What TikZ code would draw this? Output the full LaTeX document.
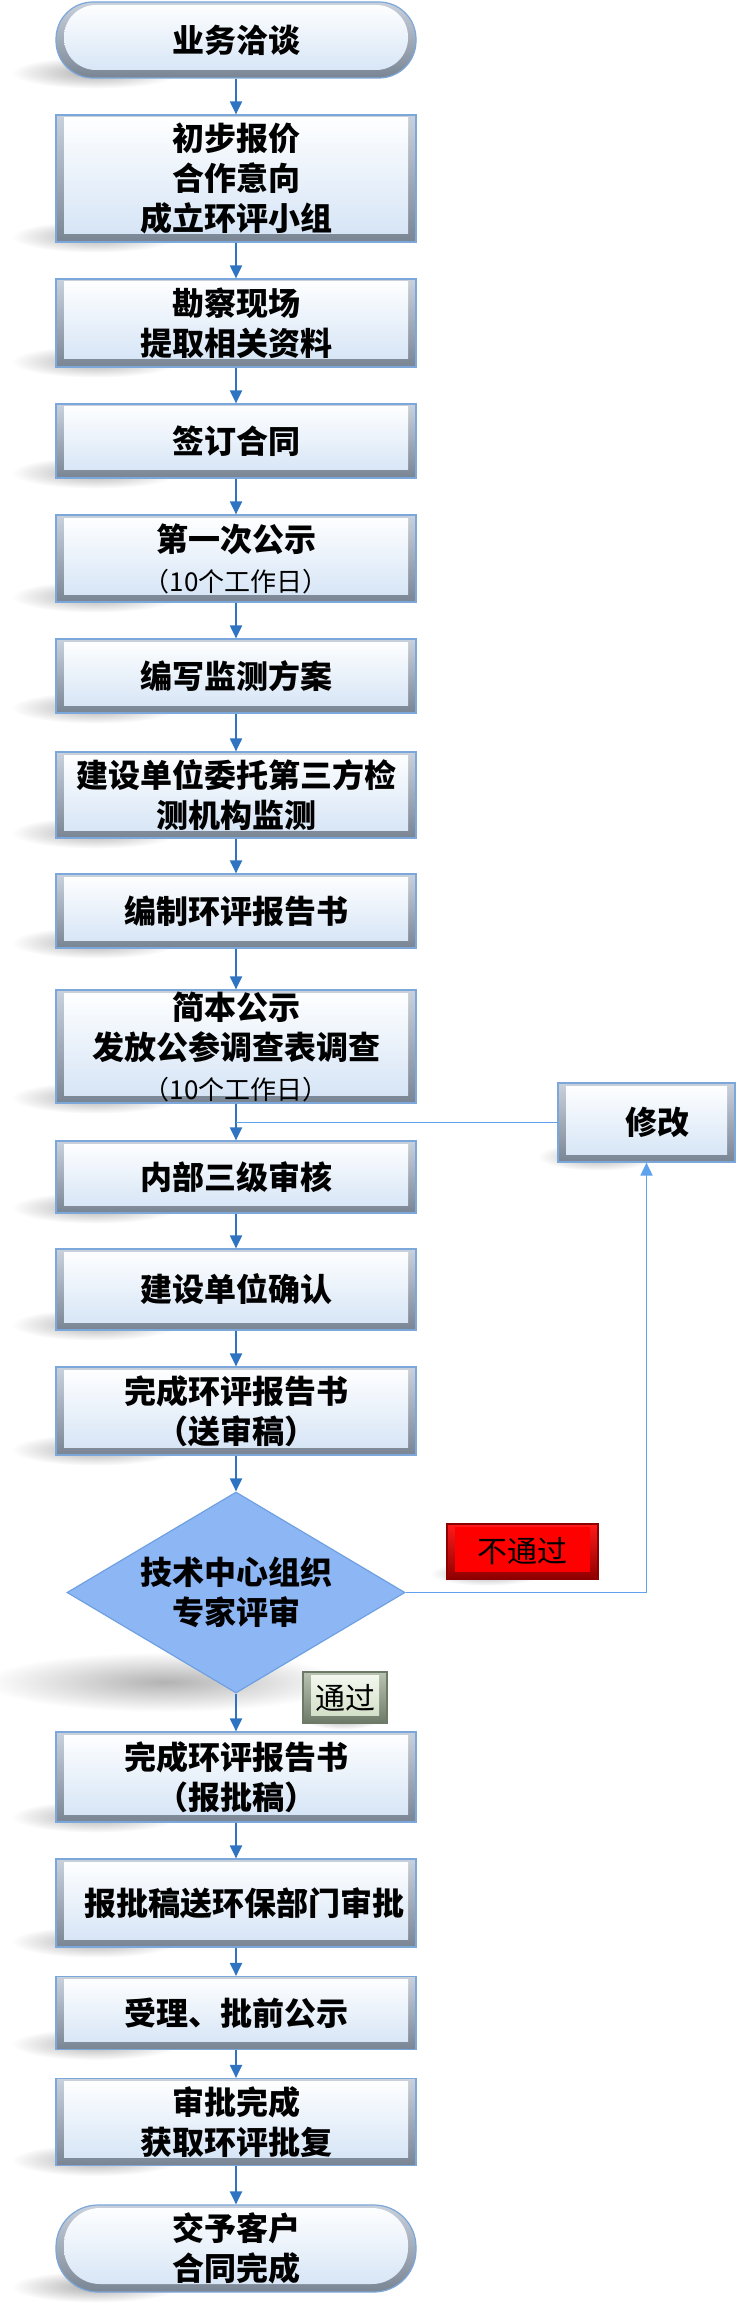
\documentclass[tikz,border=0pt]{standalone}
\usepackage{fontspec}
\newfontfamily\cjk{Noto Sans CJK SC}
\usetikzlibrary{shapes.geometric,arrows.meta,calc}
\pgfdeclarelayer{bg}
\pgfsetlayers{bg,main}
\definecolor{arrowblue}{HTML}{2F74C0}
\definecolor{linkblue}{HTML}{5EA2EE}
\definecolor{boxedge}{HTML}{7BA7DA}
\definecolor{innerbot}{HTML}{D3E3F5}
\definecolor{beveltop}{HTML}{C9D1DC}
\definecolor{bevelbot}{HTML}{7A8594}
\definecolor{diafill}{HTML}{8DB6F5}
\definecolor{diaedge}{HTML}{6FA0E0}
\definecolor{redtop}{HTML}{FF1A1A}
\definecolor{redbot}{HTML}{8E0000}
\definecolor{greentop}{HTML}{F6F9F1}
\definecolor{greenbot}{HTML}{CDDCC2}
\definecolor{gbeveltop}{HTML}{B9C3B2}
\definecolor{gbevelbot}{HTML}{6E7A68}
\newcommand\dropshade[3]{\shade[inner color=black!32, outer color=white] ($(#1.south west)+(40,-6)$) ellipse [x radius=#2, y radius=#3];}
\tikzset{
  bevelbox/.style n args={5}{rectangle, draw=#1, line width=0.6pt, top color=#2, bottom color=#3,
    inner sep=0pt, align=center,
    path picture={\shade[top color=#4, bottom color=#5]
      ([xshift=4pt,yshift=-1.5pt]path picture bounding box.north west) rectangle
      ([xshift=-4pt,yshift=4pt]path picture bounding box.south east);}},
  procbox/.style={bevelbox={boxedge}{beveltop}{bevelbot}{white}{innerbot},
    minimum width=180pt, font=\cjk\bfseries\fontsize{16}{20}\selectfont},
  termbox/.style 2 args={rectangle, draw=boxedge, line width=0.6pt, top color=beveltop, bottom color=bevelbot,
    rounded corners=#1, inner sep=0pt, align=center, minimum width=180pt,
    font=\cjk\bfseries\fontsize{16}{20}\selectfont,
    path picture={\shade[top color=white, bottom color=innerbot, rounded corners=#2]
      ([xshift=4pt,yshift=-1.5pt]path picture bounding box.north west) rectangle
      ([xshift=-4pt,yshift=4pt]path picture bounding box.south east);}},
  decision/.style={diamond, draw=diaedge, line width=0.6pt, fill=diafill, inner sep=0pt, aspect=1.68,
    minimum width=169pt, minimum height=100.5pt, align=center,
    font=\cjk\bfseries\fontsize{16}{20}\selectfont},
  redtag/.style={bevelbox={redbot}{redtop}{redbot}{red}{red}, font=\cjk\fontsize{15}{18}\selectfont},
  greentag/.style={bevelbox={gbevelbot}{gbeveltop}{gbevelbot}{greentop}{greenbot}, font=\cjk\fontsize{15}{18}\selectfont},
  flow/.style={draw=arrowblue, line width=1pt, -{Triangle[width=6pt,length=6.5pt]}},
  link/.style={draw=linkblue, line width=0.9pt},
  linkarrow/.style={link, -{Triangle[width=6pt,length=6.5pt]}},
}
\newcommand\smalltxt[1]{{\mdseries\fontsize{13}{15}\selectfont #1}}
\begin{document}
\begin{tikzpicture}[x=0.5pt,y=-0.5pt]
\useasboundingbox (0,0) rectangle (748,2305);
\begin{pgfonlayer}{bg}
\fill[white] (0,0) rectangle (748,2305);
\end{pgfonlayer}

\node[termbox={18.5pt}{16pt}, minimum height=38pt] (t1) at (236,40) {业务洽谈};
\node[procbox, minimum height=63.5pt] (b2) at (236,178.5) {初步报价\\合作意向\\成立环评小组};
\node[procbox, minimum height=44pt] (b3) at (236,323) {勘察现场\\提取相关资料};
\node[procbox, minimum height=37pt] (b4) at (236,441) {签订合同};
\node[procbox, minimum height=43.5pt] (b5) at (236,558.5) {第一次公示\\\smalltxt{（10个工作日）}};
\node[procbox, minimum height=37pt] (b6) at (236,676) {编写监测方案};
\node[procbox, minimum height=43pt] (b7) at (236,795) {建设单位委托第三方检\\测机构监测};
\node[procbox, minimum height=37pt] (b8) at (236,911) {编制环评报告书};
\node[procbox, minimum height=56.5pt] (b9) at (236,1046.5) {简本公示\\发放公参调查表调查\\\smalltxt{（10个工作日）}};
\node[procbox, minimum height=36pt] (b10) at (236,1177) {内部三级审核};
\node[procbox, minimum height=40.5pt] (b11) at (236,1289.5) {建设单位确认};
\node[procbox, minimum height=44pt] (b12) at (236,1411) {完成环评报告书\\（送审稿）};
\node[decision] (dia) at (236,1592.5) {技术中心组织\\专家评审};
\node[procbox, minimum height=45pt] (b13) at (236,1777) {完成环评报告书\\（报批稿）};
\node[procbox, minimum height=44pt] (b14) at (236,1903) {\hspace{8pt}报批稿送环保部门审批};
\node[procbox, minimum height=36.5pt] (b15) at (236,2013) {受理、批前公示};
\node[procbox, minimum height=43.5pt] (b16) at (236,2122) {审批完成\\获取环评批复};
\node[termbox={21pt}{18pt}, minimum height=43.5pt] (t17) at (236,2248.5) {交予客户\\合同完成};

\node[procbox, minimum width=88.5pt, minimum height=39.5pt] (xiugai) at (646.5,1122.5) {\hspace{11pt}修改};
\node[redtag, minimum width=75.5pt, minimum height=27.5pt] (fail) at (522.5,1551.5) {不通过};
\node[greentag, minimum width=42pt, minimum height=25.5pt] (pass) at (345,1697.5) {通过};

\begin{pgfonlayer}{bg}
\foreach \n in {t1,b2,b3,b4,b5,b6,b7,b8,b9,b10,b11,b12,b13,b14,b15,b16,t17} {\dropshade{\n}{42pt}{8pt}}
\dropshade{xiugai}{30pt}{7pt}
\dropshade{fail}{28pt}{6pt}
\dropshade{pass}{20pt}{6pt}
\shade[inner color=black!30, outer color=white] (165,1682) ellipse [x radius=90pt, y radius=15pt];
\end{pgfonlayer}

\draw[flow] (t1) -- (b2);
\draw[flow] (b2) -- (b3);
\draw[flow] (b3) -- (b4);
\draw[flow] (b4) -- (b5);
\draw[flow] (b5) -- (b6);
\draw[flow] (b6) -- (b7);
\draw[flow] (b7) -- (b8);
\draw[flow] (b8) -- (b9);
\draw[flow] (b9) -- (b10);
\draw[flow] (b10) -- (b11);
\draw[flow] (b11) -- (b12);
\draw[flow] (b12) -- (dia);
\draw[flow] (dia) -- (b13);
\draw[flow] (b13) -- (b14);
\draw[flow] (b14) -- (b15);
\draw[flow] (b15) -- (b16);
\draw[flow] (b16) -- (t17);
\draw[link] (xiugai.west) -- (xiugai.west -| b9.south);
\draw[linkarrow] (dia.east) -| (xiugai.south);
\end{tikzpicture}
\end{document}
